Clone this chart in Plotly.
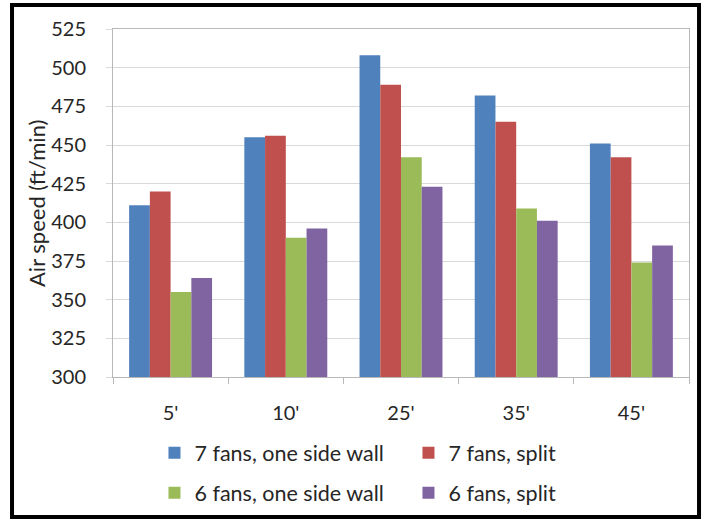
import plotly.graph_objects as go

categories = ["5'", "10'", "25'", "35'", "45'"]
series_names = ["7 fans, one side wall", "7 fans, split", "6 fans, one side wall", "6 fans, split"]
fans7_wall = [411, 455, 508, 482, 451]
fans7_split = [420, 456, 489, 465, 442]
fans6_wall = [355, 390, 442, 409, 374]
fans6_split = [364, 396, 423, 401, 385]
y_ticks = [300, 325, 350, 375, 400, 425, 450, 475, 500, 525]
y_title = "Air speed (ft/min)"

colors = ["#4F81BD", "#C0504D", "#9BBB59", "#8064A2"]
values = [fans7_wall, fans7_split, fans6_wall, fans6_split]
legends = ["legend", "legend", "legend2", "legend2"]

FONT = "Lato"
TXT = "#262626"
fig = go.Figure()
for name, vals, col, lg in zip(series_names, values, colors, legends):
    fig.add_trace(go.Bar(x=categories, y=vals, name=name, marker_color=col,
                         marker_line_width=0, legend=lg))

legend_common = dict(orientation="h", xanchor="left", yanchor="middle",
                     entrywidth=209, entrywidthmode="pixels",
                     font=dict(family=FONT, size=21.5, color=TXT),
                     bgcolor="rgba(0,0,0,0)", tracegroupgap=0)

fig.update_layout(
    width=705, height=520,
    margin=dict(l=113, r=16, t=29, b=143, autoexpand=False),
    paper_bgcolor="white", plot_bgcolor="white",
    barmode="group", bargap=0.28, bargroupgap=0,
    font=dict(family=FONT, size=20, color=TXT),
    legend=dict(x=0.072, y=-0.218, **legend_common),
    legend2=dict(x=0.072, y=-0.333, **legend_common),
    xaxis=dict(showline=True, linecolor="#B8B8B8", linewidth=1, mirror=True,
               ticks="outside", tickson="boundaries", ticklen=6, tickcolor="#B8B8B8",
               ticklabelstandoff=18, tickfont=dict(family=FONT, size=20, color=TXT)),
    yaxis=dict(range=[300, 525], tickvals=y_ticks, showgrid=True, gridcolor="#D9D9D9",
               showline=True, linecolor="#B8B8B8", linewidth=1, mirror=True,
               ticks="outside", ticklen=6, tickcolor="#D9D9D9", ticklabelstandoff=16,
               zeroline=False,
               tickfont=dict(family=FONT, size=20, color=TXT)),
    annotations=[dict(text=y_title, xref="paper", yref="paper", x=-0.1337, y=0.5,
                      xanchor="center", yanchor="middle", textangle=-90, showarrow=False,
                      font=dict(family=FONT, size=22, color=TXT))],
    shapes=[dict(type="rect", xref="paper", yref="paper",
                 x0=-0.1753, x1=1.0174, y0=-0.402, y1=1.069,
                 line=dict(color="black", width=4), layer="above")],
)

fig.write_html("out.html", config={"displayModeBar": False},
               post_script="document.body.style.margin='0px';")
